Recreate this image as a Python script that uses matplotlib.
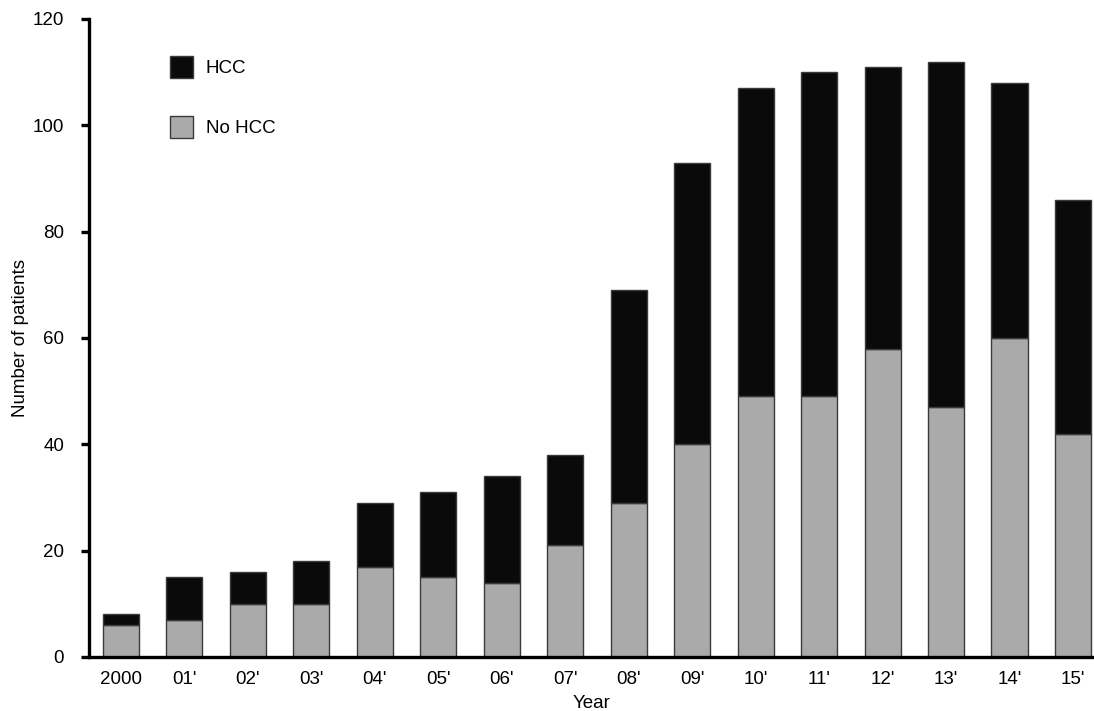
import numpy as np
import matplotlib
matplotlib.use("Agg")
import matplotlib.pyplot as plt
from matplotlib.patches import Patch

plt.rcParams['font.family'] = ['Liberation Sans', 'DejaVu Sans']

# data
years = ["2000", "01'", "02'", "03'", "04'", "05'", "06'", "07'",
         "08'", "09'", "10'", "11'", "12'", "13'", "14'", "15'"]
total = [8, 15, 16, 18, 29, 31, 34, 38, 69, 93, 107, 110, 111, 112, 108, 86]
no_hcc = [6, 7, 10, 10, 17, 15, 14, 21, 29, 40, 49, 49, 58, 47, 60, 42]
hcc = [t - n for t, n in zip(total, no_hcc)]

x = np.arange(len(years))
fs = 13.5

fig = plt.figure(figsize=(10.94, 7.11), dpi=100)
ax = fig.add_axes([0.0814, 0.076, 0.9186, 0.8973])

edge = '#3a3a3a'
ax.bar(x, no_hcc, width=0.57, color='#aaaaaa', edgecolor=edge, linewidth=1)
ax.bar(x, hcc, width=0.57, bottom=no_hcc, color='#0a0a0a', edgecolor=edge, linewidth=1)

ax.set_xlim(-0.5, 15.33)
ax.set_ylim(0, 120)
ax.set_yticks(range(0, 121, 20))
ax.set_xticks(x)
ax.set_xticklabels(years)

for s in ['top', 'right']:
    ax.spines[s].set_visible(False)
ax.spines['left'].set_linewidth(2.4)
ax.spines['bottom'].set_linewidth(2.4)
ax.tick_params(axis='y', length=6, width=2.4, labelsize=fs, pad=12)
ax.tick_params(axis='x', length=0, labelsize=fs, pad=10)

ax.set_xlabel('Year', fontsize=fs, labelpad=5)
ax.set_ylabel('Number of patients', fontsize=fs)
ax.yaxis.set_label_coords(-0.06, 0.5)

handles = [Patch(facecolor='#0a0a0a', edgecolor=edge, label='HCC'),
           Patch(facecolor='#aaaaaa', edgecolor=edge, label='No HCC')]
ax.legend(handles=handles, loc='upper left', bbox_to_anchor=(0.064, 0.968),
          frameon=False, fontsize=fs, handlelength=1.2, handleheight=1.4,
          labelspacing=2.05, handletextpad=0.7)

fig.savefig('out.png', dpi=100)
